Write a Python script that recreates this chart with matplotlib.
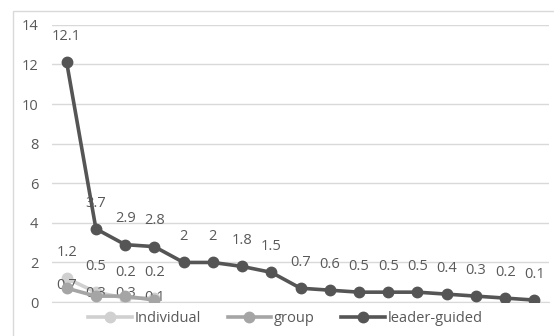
import matplotlib.pyplot as plt
from matplotlib.patches import Rectangle

plt.rcParams['font.family'] = ['Open Sans', 'DejaVu Sans']

# datos
categorias = list(range(17))
individual = [1.2, 0.5, 0.2, 0.2]
group = [0.7, 0.3, 0.3, 0.1]
leader_guided = [12.1, 3.7, 2.9, 2.8, 2, 2, 1.8, 1.5, 0.7, 0.6, 0.5, 0.5, 0.5, 0.4, 0.3, 0.2, 0.1]
etiquetas_leader = ['12.1', '3.7', '2.9', '2.8', '2', '2', '1.8', '1.5', '0.7', '0.6',
                    '0.5', '0.5', '0.5', '0.4', '0.3', '0.2', '0.1']
yticks = [0, 2, 4, 6, 8, 10, 12, 14]

c_texto = '#595959'
tam = 10.5

fig = plt.figure(figsize=(5.54, 3.36), dpi=100)
ax = fig.add_axes([0.094, 0.101, 0.897, 0.825])

# borde del area del grafico
fig.patches.append(Rectangle((13 / 554, -0.2), 1.2, 1.2 - 11 / 336,
                             transform=fig.transFigure, fill=False,
                             edgecolor='#d9d9d9', linewidth=1))

ax.plot(categorias[:len(individual)], individual, color='#d0d0d0', lw=2.6,
        marker='o', ms=7.5, label='Individual', zorder=3)
ax.plot(categorias[:len(group)], group, color='#a5a5a5', lw=2.6,
        marker='o', ms=7.5, label='group', zorder=4)
ax.plot(categorias, leader_guided, color='#555555', lw=2.6,
        marker='o', ms=7.5, label='leader-guided', zorder=5)

# etiquetas de datos
for x, v, t in zip(categorias, leader_guided, etiquetas_leader):
    ax.annotate(t, (x, v), xytext=(0, 18.5), textcoords='offset points',
                ha='center', va='center', fontsize=tam, color=c_texto)
for x, v in zip(categorias, individual):
    ax.annotate(str(v), (x, v), xytext=(0, 18.5), textcoords='offset points',
                ha='center', va='center', fontsize=tam, color=c_texto)
for x, v in zip(categorias, group):
    ax.annotate(str(v), (x, v), xytext=(0, 2), textcoords='offset points',
                ha='center', va='center', fontsize=tam, color=c_texto)

ax.set_xlim(-0.5, 16.5)
ax.set_ylim(0, 14)
ax.set_yticks(yticks)
ax.set_xticks([])
ax.grid(axis='y', color='#d9d9d9', lw=1)
ax.set_axisbelow(True)
for s in ['top', 'right', 'left']:
    ax.spines[s].set_visible(False)
ax.spines['bottom'].set_color('#d9d9d9')
ax.tick_params(axis='y', length=0, labelsize=tam, colors=c_texto, pad=10)

leg = ax.legend(loc='upper center', bbox_to_anchor=(0.47, -0.012), ncol=3,
                frameon=False, fontsize=tam, handlelength=3.0, columnspacing=1.8,
                handletextpad=0.2, borderaxespad=0.0)
for t in leg.get_texts():
    t.set_color(c_texto)

plt.savefig('out.png', dpi=100)
